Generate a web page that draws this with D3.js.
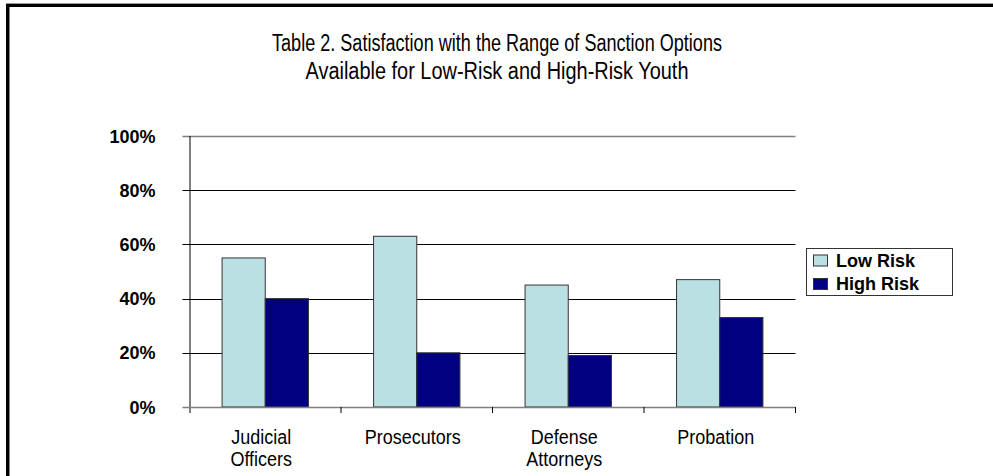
<!DOCTYPE html>
<html>
<head>
<meta charset="utf-8">
<script src="https://cdn.jsdelivr.net/npm/d3@7"></script>
<style>
  body { margin: 0; background: #fff; }
  svg { display: block; font-family: "Liberation Sans", Arial, sans-serif; }
</style>
</head>
<body>
<div id="chart"></div>
<script>
// data
var groups = ["Judicial Officers", "Prosecutors", "Defense Attorneys", "Probation"];
var groupLines = [["Judicial", "Officers"], ["Prosecutors"], ["Defense", "Attorneys"], ["Probation"]];
var seriesNames = ["Low Risk", "High Risk"];
var lowRisk = [55, 63, 45, 47];
var highRisk = [40, 20, 19, 33];
var yTicks = [0, 20, 40, 60, 80, 100];
var titleLines = ["Table 2. Satisfaction with the Range of Sanction Options",
                  "Available for Low-Risk and High-Risk Youth"];

var colors = ["#BBE0E3", "#000080"];

var W = 993, H = 476;
var margin = { top: 136, right: 197.5, bottom: 69, left: 189.5 },
    width = W - margin.left - margin.right,
    height = H - margin.top - margin.bottom;

var svg = d3.select("#chart").append("svg")
    .attr("width", W)
    .attr("height", H);

// outer frame (only top and left visible)
svg.append("line").attr("x1", 6).attr("x2", W).attr("y1", 3.5).attr("y2", 3.5)
    .attr("stroke", "#999").attr("stroke-width", 1);
svg.append("rect").attr("x", 6).attr("y", 4).attr("width", W - 6).attr("height", 3).attr("fill", "#000");
svg.append("rect").attr("x", 6).attr("y", 4).attr("width", 3).attr("height", H).attr("fill", "#000");
svg.append("rect").attr("x", 9).attr("y", 7).attr("width", 1).attr("height", H).attr("fill", "#888");

// title (condensed look of the original)
var titleWidths = [450, 383];
svg.append("g").selectAll("text")
    .data(titleLines)
    .enter().append("text")
    .attr("x", 497)
    .attr("y", function (d, i) { return 51 + i * 28; })
    .attr("text-anchor", "middle")
    .attr("font-size", "23px")
    .attr("textLength", function (d, i) { return titleWidths[i]; })
    .attr("lengthAdjust", "spacingAndGlyphs")
    .attr("fill", "#000")
    .text(function (d) { return d; });

var g = svg.append("g")
    .attr("transform", "translate(" + margin.left + "," + margin.top + ")");

var x0 = d3.scaleBand()
    .domain(groups)
    .range([0, width])
    .paddingInner(0.43)
    .paddingOuter(0.215);

var x1 = d3.scaleBand()
    .domain(seriesNames)
    .range([0, x0.bandwidth()]);

var y = d3.scaleLinear()
    .domain([0, 100])
    .range([height, 0]);

// gridlines
g.append("g").selectAll("line")
    .data(yTicks.filter(function (d) { return d > 0; }))
    .enter().append("line")
    .attr("x1", -7).attr("x2", width)
    .attr("y1", function (d) { return Math.round(y(d)) + 0.5; })
    .attr("y2", function (d) { return Math.round(y(d)) + 0.5; })
    .attr("stroke", function (d) { return d == 100 ? "#808080" : "#000"; })
    .attr("stroke-width", function (d) { return d == 100 ? 1.5 : 1; });

// y labels
g.append("g").selectAll("text")
    .data(yTicks)
    .enter().append("text")
    .attr("x", -34)
    .attr("y", function (d) { return y(d) + 6.5; })
    .attr("text-anchor", "end")
    .attr("font-size", "18px")
    .attr("font-weight", "bold")
    .text(function (d) { return d + "%"; });

// bars
var table = groups.map(function (name, i) {
    return { name: name, values: [lowRisk[i], highRisk[i]] };
});

var grp = g.append("g").selectAll("g")
    .data(table)
    .enter().append("g")
    .attr("transform", function (d) { return "translate(" + x0(d.name) + ",0)"; });

grp.selectAll("rect")
    .data(function (d) { return d.values.map(function (v, j) { return { key: seriesNames[j], value: v, j: j }; }); })
    .enter().append("rect")
    .attr("x", function (d) { return x1(d.key); })
    .attr("y", function (d) { return y(d.value); })
    .attr("width", x1.bandwidth())
    .attr("height", function (d) { return height - y(d.value); })
    .attr("fill", function (d) { return colors[d.j]; })
    .attr("stroke", "#333")
    .attr("stroke-width", 1);

// y axis line and zero line
g.append("line").attr("x1", 0.5).attr("x2", 0.5).attr("y1", 0).attr("y2", height + 6)
    .attr("stroke", "#000");
g.append("line").attr("x1", -7).attr("x2", width).attr("y1", height + 0.5).attr("y2", height + 0.5)
    .attr("stroke", "#808080").attr("stroke-width", 1.5);

// category ticks
var step = x0.step();
g.append("g").selectAll("line")
    .data(d3.range(1, groups.length + 1))
    .enter().append("line")
    .attr("x1", function (d) { return d * step; })
    .attr("x2", function (d) { return d * step; })
    .attr("y1", height).attr("y2", height + 6)
    .attr("stroke", "#000");

// category labels, slightly stretched vertically like the original
var lbl = g.append("g").selectAll("text")
    .data(groups)
    .enter().append("text")
    .attr("transform", function (d) {
        return "translate(" + (x0(d) + x0.bandwidth() / 2 - 4) + "," + (height + 37) + ") scale(1,1.12)";
    })
    .attr("text-anchor", "middle")
    .attr("font-size", "18px");
lbl.selectAll("tspan")
    .data(function (d, i) { return groupLines[i]; })
    .enter().append("tspan")
    .attr("x", 0)
    .attr("dy", function (d, i) { return i == 0 ? 0 : 20; })
    .text(function (d) { return d; });

// legend
var legend = svg.append("g").attr("transform", "translate(806,248)");
legend.append("rect")
    .attr("x", 0.5).attr("y", 0.5)
    .attr("width", 146).attr("height", 47)
    .attr("fill", "#fff").attr("stroke", "#333");
var li = legend.selectAll("g.item")
    .data(seriesNames)
    .enter().append("g")
    .attr("class", "item")
    .attr("transform", function (d, i) { return "translate(7," + (12.5 + i * 23.5) + ")"; });
li.append("rect")
    .attr("x", 0.5).attr("y", -5.5)
    .attr("width", 14).attr("height", 11)
    .attr("fill", function (d, i) { return colors[i]; })
    .attr("stroke", "#333");
li.append("text")
    .attr("x", 23).attr("y", 6.3)
    .attr("font-size", "18px")
    .attr("font-weight", "bold")
    .text(function (d) { return d; });
</script>
</body>
</html>
